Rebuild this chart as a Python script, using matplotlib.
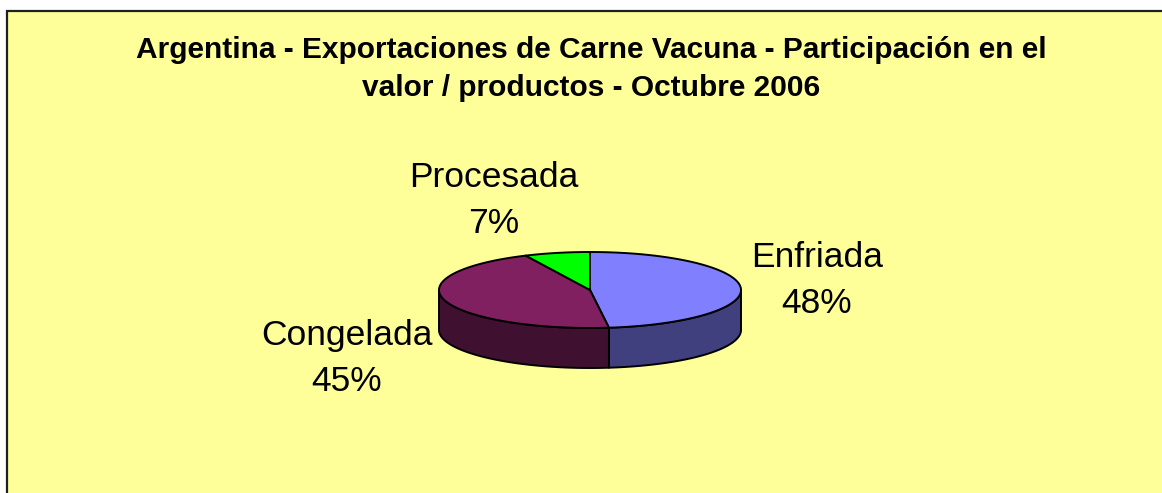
import numpy as np
import matplotlib.pyplot as plt
from matplotlib.patches import Polygon, Rectangle

# --- data ---
categories = ["Enfriada", "Congelada", "Procesada"]
shares = [48, 45, 7]
top_colors = ["#8080FF", "#802060", "#00FF00"]
side_colors = ["#40407F", "#401030", "#008000"]
title_lines = ["Argentina - Exportaciones de Carne Vacuna - Participación en el",
               "valor / productos - Octubre 2006"]

# --- layout (pixel coords, y downwards) ---
W, H = 1162, 493
cx, cy = 590, 290        # centre of the top ellipse
rx, ry = 151, 38         # ellipse radii
depth = 40               # thickness of the pie
label_xy = [(817, 267), (347, 345), (494, 187)]   # baseline of the name line
label_gap = 46

plt.rcParams['font.family'] = ['Liberation Sans', 'DejaVu Sans']

fig = plt.figure(figsize=(W / 100, H / 100), dpi=100)
ax = fig.add_axes([0, 0, 1, 1])
ax.set_xlim(0, W)
ax.set_ylim(H, 0)
ax.axis('off')

# chart area
ax.add_patch(Rectangle((7, 10.5), W + 20, H + 20, facecolor="#FFFF99",
                       edgecolor="#202020", lw=1.6, zorder=0))


def ellipse_pts(t0, t1, dy=0, n=200):
    t = np.radians(np.linspace(t0, t1, n))
    return np.column_stack([cx + rx * np.cos(t), cy - ry * np.sin(t) + dy])


# angles: start at 12 o'clock, going clockwise
bounds = 90 - 360 * np.concatenate([[0], np.cumsum(shares)]) / sum(shares)

# side walls (only the front half, sin < 0, is visible)
for i in range(len(shares)):
    t_start, t_end = bounds[i], bounds[i + 1]
    for k in range(-2, 2):
        lo = max(t_end, -180 + 360 * k)
        hi = min(t_start, 360 * k)
        if hi > lo:
            top = ellipse_pts(hi, lo)
            bot = ellipse_pts(lo, hi, dy=depth)
            ax.add_patch(Polygon(np.vstack([top, bot]), closed=True,
                                 facecolor=side_colors[i], edgecolor="black",
                                 lw=1.4, joinstyle="round", zorder=2))

# top faces
for i in range(len(shares)):
    arc = ellipse_pts(bounds[i], bounds[i + 1])
    pts = np.vstack([[cx, cy], arc])
    ax.add_patch(Polygon(pts, closed=True, facecolor=top_colors[i],
                         edgecolor="black", lw=1.4, joinstyle="round", zorder=3))

# labels
for (x, y), name, val in zip(label_xy, categories, shares):
    ax.text(x, y, name, fontsize=25.5, ha="center", va="baseline", zorder=4)
    ax.text(x, y + label_gap, f"{val}%", fontsize=25.5, ha="center",
            va="baseline", zorder=4)

# title
ax.text(591, 58, title_lines[0], fontsize=21.5, fontweight="bold",
        ha="center", va="baseline", zorder=4)
ax.text(591, 96, title_lines[1], fontsize=21.5, fontweight="bold",
        ha="center", va="baseline", zorder=4)

fig.savefig("out.png", dpi=100, facecolor="white")
